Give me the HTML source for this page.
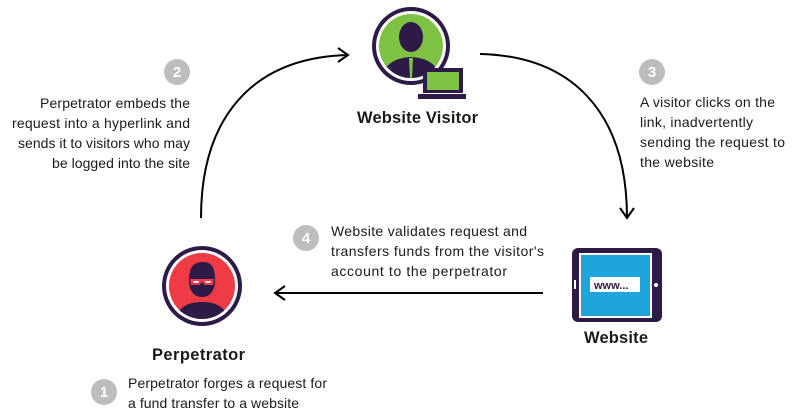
<!DOCTYPE html>
<html><head><meta charset="utf-8"><style>
html,body{margin:0;padding:0;background:#fff;}
svg{display:block;}
text{font-family:"Liberation Sans",sans-serif;fill:#1a1a1a;}
.t{font-size:14px;}
.b{font-size:16.5px;font-weight:bold;}
.n{font-size:15px;font-weight:bold;fill:#fff;}
</style></head><body>
<svg width="800" height="416" viewBox="0 0 800 416">
<defs>
<clipPath id="cg"><circle cx="411" cy="46" r="32"/></clipPath>
<clipPath id="cr"><circle cx="202" cy="286" r="33"/></clipPath>
</defs>
<g fill="none" stroke="#000" stroke-width="2">
<path d="M201,218 C201,120 250,58 347,55"/>
<path d="M338,48 L348,55 L338,62"/>
<path d="M480,54 C570,56 627,110 627,218"/>
<path d="M620,208 L627,218 L634,208"/>
<path d="M543,293 L275,293"/>
<path d="M285,286 L275,293 L285,300"/>
</g>
<circle cx="411" cy="46" r="39" fill="#2d1a47"/>
<circle cx="411" cy="46" r="35" fill="#fff"/>
<circle cx="411" cy="46" r="32" fill="#7dc242"/>
<g clip-path="url(#cg)" fill="#2d1a47">
<ellipse cx="411" cy="37" rx="12" ry="15"/>
<path d="M381,82 C383,63 396,58 411,57 C426,58 439,63 441,82 Z"/>
</g>
<path d="M409,58 L413,58 L412,78 L410,78 Z" fill="#7dc242"/>
<rect x="423" y="68" width="40" height="25" fill="#2d1a47"/>
<rect x="427" y="72" width="32" height="18" fill="#7dc242"/>
<rect x="418" y="94" width="48" height="5" fill="#2d1a47"/>
<circle cx="202" cy="286" r="40" fill="#2d1a47"/>
<circle cx="202" cy="286" r="36" fill="#fff"/>
<circle cx="202" cy="286" r="33" fill="#ee3b45"/>
<g clip-path="url(#cr)" fill="#2d1a47">
<path d="M189,280 C189,268 193,262 203,262 C212,262 215,268 215,280 C215,291 210,297 202,297 C194,297 189,291 189,280 Z"/>
<path d="M174,325 C176,307 188,302 202,302 C216,302 228,307 230,325 Z"/>
</g>
<path d="M190,279 L214,279 L213,285 L205,285 L202,282 L199,285 L191,285 Z" fill="#ee3b45"/>
<path d="M193,281 L199,281 L198,283 L194,283 Z M205,281 L211,281 L210,283 L206,283 Z" fill="#fff"/>
<rect x="572" y="248" width="90" height="74" rx="6" fill="#2d1a47"/>
<rect x="579" y="253" width="73" height="65" fill="#fff"/>
<rect x="581" y="255" width="69" height="61" fill="#1fa4db"/>
<rect x="590" y="277" width="50" height="15" fill="#fff"/>
<text x="594" y="289" style="font-size:11px;font-weight:bold;fill:#2d1a47">www...</text>
<rect x="574" y="280" width="2" height="9" fill="#fff"/>
<circle cx="656" cy="285" r="2" fill="#fff"/>
<g fill="#bdbdbd">
<circle cx="177" cy="72" r="13"/><circle cx="652" cy="72" r="13"/>
<circle cx="306" cy="238" r="13"/><circle cx="104" cy="392" r="13"/>
</g>
<text class="n" x="177" y="77" text-anchor="middle">2</text>
<text class="n" x="652" y="77" text-anchor="middle">3</text>
<text class="n" x="306" y="243" text-anchor="middle">4</text>
<text class="n" x="104" y="397" text-anchor="middle">1</text>
<text class="b" x="357" y="123" textLength="121">Website Visitor</text>
<text class="b" x="152" y="360" textLength="93">Perpetrator</text>
<text class="b" x="584" y="343" textLength="64">Website</text>
<text class="t" x="40" y="108" textLength="150">Perpetrator embeds the</text>
<text class="t" x="12" y="128" textLength="178">request into a hyperlink  and</text>
<text class="t" x="18" y="148" textLength="172">sends it to visitors who may</text>
<text class="t" x="52" y="168" textLength="138">be logged into the site</text>
<text class="t" x="640" y="107" textLength="135">A visitor clicks on the</text>
<text class="t" x="640" y="127" textLength="113">link, inadvertently</text>
<text class="t" x="640" y="147" textLength="145">sending the request to</text>
<text class="t" x="640" y="167" textLength="74">the website</text>
<text class="t" x="331" y="236" textLength="196">Website validates request and</text>
<text class="t" x="331" y="256" textLength="213">transfers funds from the visitor's</text>
<text class="t" x="331" y="276" textLength="176">account to the  perpetrator</text>
<text class="t" x="128" y="388" textLength="199">Perpetrator forges a request for</text>
<text class="t" x="128" y="408" textLength="171">a fund transfer to a website</text>
</svg>
</body></html>
